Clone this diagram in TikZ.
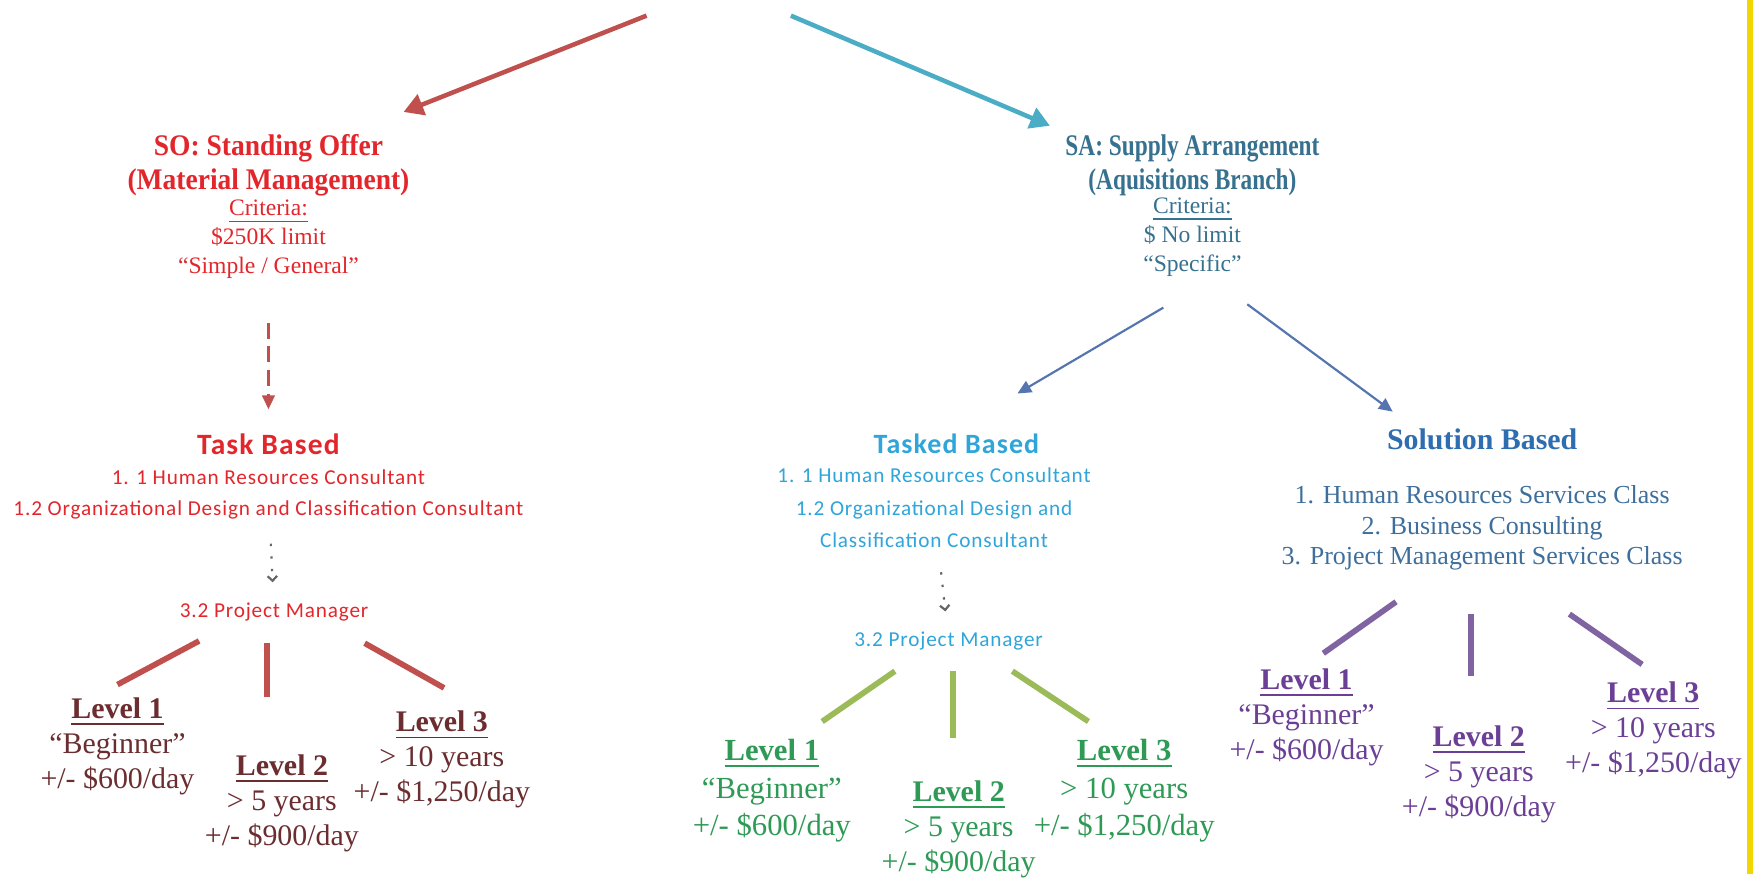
\documentclass[tikz,border=0pt]{standalone}
\usepackage{fontspec}
\setmainfont{Liberation Serif}
\newfontfamily\calibri{Carlito}[LetterSpace=4]
\newfontfamily\sotitlefont{Liberation Serif}[FakeStretch=0.92]
\newfontfamily\satitlefont{Liberation Serif}[FakeStretch=0.78]
\usetikzlibrary{positioning,arrows.meta}

\definecolor{sored}{HTML}{E3262B}
\definecolor{soarrow}{HTML}{C0504D}
\definecolor{solevel}{HTML}{6B2D2F}
\definecolor{sateal}{HTML}{4BACC6}
\definecolor{satext}{HTML}{36718F}
\definecolor{saarrow}{HTML}{5575B0}
\definecolor{taskblue}{HTML}{2FA5DA}
\definecolor{solblue}{HTML}{2E6DAF}
\definecolor{sollist}{HTML}{3E6F9C}
\definecolor{lvlgreen}{HTML}{9BBB59}
\definecolor{txtgreen}{HTML}{2E9A55}
\definecolor{lvlpurple}{HTML}{8064A2}
\definecolor{txtpurple}{HTML}{6C3F96}
\definecolor{edgeyellow}{HTML}{F2D600}

\tikzset{
    title/.style={align=center,font=\sotitlefont\bfseries\fontsize{7.6}{8.6}\selectfont},
    crit/.style={align=center,font=\fontsize{6}{7.4}\selectfont},
    taskhead/.style={font=\calibri\bfseries\fontsize{7.5}{9}\selectfont},
    tasklist/.style={align=center,font=\calibri\fontsize{5.4}{8}\selectfont},
    solhead/.style={font=\bfseries\fontsize{7.6}{9}\selectfont},
    sollist/.style={align=center,font=\fontsize{6.6}{7.7}\selectfont},
    level/.style={align=center,font=\fontsize{7.6}{8.9}\selectfont},
    bigarrow/.style={line width=1.15pt,-{Triangle[length=5pt,width=5.5pt]}},
    thinarrow/.style={draw=saarrow,line width=0.55pt,-{Triangle[length=3.5pt,width=3.2pt]}},
    dotarrow/.style={draw=gray!80!black,line width=0.55pt,dash pattern=on 0.6pt off 2.6pt,-{Straight Barb[length=1.2pt,width=2.4pt]}},
    bar/.style={line width=1.45pt}
}

\begin{document}
\begin{tikzpicture}[x=0.01cm,y=-0.01cm,inner sep=1pt]
    \fill[white] (0,0) rectangle (1568,783);
    \fill[edgeyellow] (1562,0) rectangle (1567,781);

    % SO: standing offer
    \node[title,text=sored] (soT) at (240,148) {SO: Standing Offer\\(Material Management)};
    \node[crit,text=sored] (soC) at (240,214) {\underline{Criteria:}\\\$250K limit\\“Simple / General”};
    \node[taskhead,text=sored] (taskL) at (240,397) {Task Based};
    \node[tasklist,text=sored] (listL) at (240,442) {1. 1 Human Resources  Consultant\\1.2 Organizational  Design  and Classification  Consultant};
    \node[tasklist,text=sored] (pmL) at (245,547) {3.2 Project Manager};
    \node[level,text=solevel] (lvA1) at (105,667) {\textbf{\underline{Level 1}}\\“Beginner”\\+/- \$600/day};
    \node[level,text=solevel] (lvA2) at (252,718) {\textbf{\underline{Level 2}}\\> 5 years\\+/- \$900/day};
    \node[level,text=solevel] (lvA3) at (395,679) {\textbf{\underline{Level 3}}\\> 10 years\\+/- \$1,250/day};

    % SA: supply arrangement
    \node[title,text=satext,font=\satitlefont\bfseries\fontsize{7.6}{8.6}\selectfont] (saT) at (1066,148) {SA: Supply Arrangement\\(Aquisitions Branch)};
    \node[crit,text=satext] (saC) at (1066,212) {\underline{Criteria:}\\\$ No limit\\“Specific”};

    \node[taskhead,text=taskblue,font=\calibri\bfseries\fontsize{7.1}{9}\selectfont] (taskM) at (855,397) {Tasked Based};
    \node[tasklist,text=taskblue,font=\calibri\fontsize{5.4}{8.3}\selectfont] (listM) at (835,454) {1. 1 Human Resources  Consultant\\1.2 Organizational  Design  and\\Classification  Consultant};
    \node[tasklist,text=taskblue] (pmM) at (848,573) {3.2 Project Manager};
    \node[level,text=txtgreen,font=\fontsize{7.8}{9.6}\selectfont] (lvB1) at (690,707) {\textbf{\underline{Level 1}}\\“Beginner”\\+/- \$600/day};
    \node[level,text=txtgreen] (lvB2) at (857,741) {\textbf{\underline{Level 2}}\\> 5 years\\+/- \$900/day};
    \node[level,text=txtgreen,font=\fontsize{7.8}{9.6}\selectfont] (lvB3) at (1005,707) {\textbf{\underline{Level 3}}\\> 10 years\\+/- \$1,250/day};

    \node[solhead,text=solblue] (solR) at (1325,393) {Solution Based};
    \node[sollist,text=sollist] (listR) at (1325,472) {1. Human Resources Services Class\\2. Business Consulting\\3. Project Management Services Class};
    \node[level,text=txtpurple] (lvC1) at (1168,641) {\textbf{\underline{Level 1}}\\“Beginner”\\+/- \$600/day};
    \node[level,text=txtpurple] (lvC2) at (1322,692) {\textbf{\underline{Level 2}}\\> 5 years\\+/- \$900/day};
    \node[level,text=txtpurple] (lvC3) at (1478,653) {\textbf{\underline{Level 3}}\\> 10 years\\+/- \$1,250/day};

    % free ends
    \coordinate (redTail) at (578,14);
    \coordinate (tealTail) at (707,14);
    \coordinate (saLTail) at (1040,275);
    \coordinate (saRTail) at (1115,272);
    \coordinate (saRHead) at (1245,368);

    % arrows
    \draw[bigarrow,soarrow,shorten >=12.5pt] (redTail) -- (soT);
    \draw[bigarrow,sateal,shorten >=3pt] (tealTail) -- (saT.north west);
    \draw[soarrow,line width=0.55pt,dash pattern=on 4pt off 2pt,-{Triangle[length=3.5pt,width=3.2pt]},shorten <=10pt,shorten >=5pt] (soC) -- (taskL);
    \draw[thinarrow,shorten >=18pt] (saLTail) -- (taskM.north);
    \draw[thinarrow] (saRTail) -- (saRHead);
    \draw[dotarrow,shorten <=5pt,shorten >=4pt] (listL) -- (pmL);
    \draw[dotarrow,shorten <=5pt,shorten >=4pt] (listM) -- (pmM);

    % level bars
    \begin{scope}[bar,draw=soarrow]
        \draw (178,573) -- (105,612);
        \draw (239,575) -- (239,623);
        \draw (326,575) -- (397,615);
    \end{scope}
    \begin{scope}[bar,draw=lvlgreen]
        \draw (800,600) -- (735,645);
        \draw (852,600) -- (852,660);
        \draw (905,600) -- (973,645);
    \end{scope}
    \begin{scope}[bar,draw=lvlpurple]
        \draw (1248,538) -- (1183,584);
        \draw (1315,549) -- (1315,604);
        \draw (1403,549) -- (1468,594);
    \end{scope}
\end{tikzpicture}
\end{document}
